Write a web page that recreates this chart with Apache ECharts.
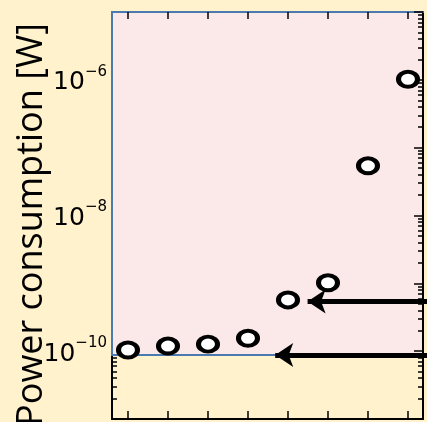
<!DOCTYPE html>
<html>
<head>
<meta charset="utf-8">
<script src="https://cdn.jsdelivr.net/npm/echarts@6/dist/echarts.min.js"></script>
<style>
  html, body { margin: 0; padding: 0; background: #FFF2CC; }
  #chart { width: 427px; height: 422px; }
</style>
</head>
<body>
<div id="chart"></div>
<script>
// Stage index on the horizontal axis and the measured power at each stage
const stages = [1, 2, 3, 4, 5, 6, 7, 8];
const powerW = [1.04e-10, 1.19e-10, 1.27e-10, 1.55e-10, 5.7e-10, 1.02e-9, 5.4e-8, 1.02e-6];

// Shaded band: from its floor up to the top of the plot
const bandFloorW = 8.8e-11;
const bandTopW = 1e-5;

// Two leftward arrows: level, tip position and tail position
const arrowLevelsW = [5.4e-10, 8.8e-11];
const arrowTipStage = [5.49, 4.68];
const arrowTailStage = 8.6;

// Axis ranges and tick values
const xRange = [0.6, 8.375];
const yRange = [1e-11, 1e-5];
const decadeTicks = [1e-11, 1e-10, 1e-9, 1e-8, 1e-7, 1e-6, 1e-5];
const labelledDecades = [1e-10, 1e-8, 1e-6];
const minorTicks = [];
for (let k = -11; k <= -6; k++) {
  for (let m = 2; m <= 9; m++) minorTicks.push(m * Math.pow(10, k));
}

const INK = '#000000';
const BAND_FILL = '#FBE9E9';
const BAND_EDGE = '#4A7AAF';
const PAPER = '#FFF2CC';

const chart = echarts.init(document.getElementById('chart'), null, { renderer: 'canvas' });

function yAxisBase(position, ticks, len, showLine) {
  return {
    type: 'log',
    logBase: 10,
    position: position,
    min: yRange[0],
    max: yRange[1],
    axisLine: { show: showLine, lineStyle: { color: INK, width: 2 } },
    axisTick: { show: true, inside: true, length: len, customValues: ticks, lineStyle: { color: INK, width: 1.5 } },
    axisLabel: { show: false },
    splitLine: { show: false },
    minorTick: { show: false }
  };
}

function xAxisBase(position, len, lineColor) {
  return {
    type: 'value',
    position: position,
    min: xRange[0],
    max: xRange[1],
    z: 5,
    axisLine: { show: true, lineStyle: { color: lineColor, width: 2 } },
    axisTick: { show: true, inside: true, length: len, customValues: stages, lineStyle: { color: INK, width: 1.5 } },
    axisLabel: { show: false },
    splitLine: { show: false }
  };
}

const leftMajor = yAxisBase('left', decadeTicks, 9, true);
leftMajor.axisLabel = {
  show: true,
  margin: 5,
  customValues: labelledDecades,
  formatter: function (v) {
    const e = Math.round(Math.log10(v));
    return '{b|10}{s|\u2212' + Math.abs(e) + '}';
  },
  rich: {
    b: { fontFamily: 'DejaVu Sans', fontSize: 25, color: INK, lineHeight: 31, verticalAlign: 'bottom' },
    s: { fontFamily: 'DejaVu Sans', fontSize: 15, color: INK, lineHeight: 31, verticalAlign: 'top' }
  }
};
leftMajor.name = 'Power consumption [W]';
leftMajor.nameLocation = 'middle';
leftMajor.nameRotate = 90;
leftMajor.nameGap = 62;
leftMajor.nameMoveOverlap = false;
leftMajor.nameTextStyle = {
  fontFamily: 'Open Sans',
  fontSize: 36,
  color: INK,
  padding: [0, 18, 0, 0]
};

const rightMajor = yAxisBase('right', decadeTicks, 9, true);
rightMajor.z = 5;
const leftMinor = yAxisBase('left', minorTicks, 5, false);
const rightMinor = yAxisBase('right', minorTicks, 5, false);
rightMinor.z = 5;

const option = {
  backgroundColor: PAPER,
  animation: false,
  grid: { left: 112, right: 4, top: 12, bottom: 3, containLabel: false, outerBoundsMode: 'none' },
  xAxis: [xAxisBase('bottom', 8, INK), xAxisBase('top', 7, BAND_EDGE)],
  yAxis: [leftMajor, rightMajor, leftMinor, rightMinor],
  series: [
    {
      name: 'band',
      type: 'line',
      data: [],
      z: -1,
      silent: true,
      markArea: {
        silent: true,
        itemStyle: { color: BAND_FILL, borderWidth: 0 },
        data: [[{ yAxis: bandFloorW }, { yAxis: bandTopW }]]
      }
    },
    {
      name: 'band edge',
      type: 'line',
      data: [],
      z: 3,
      silent: true,
      markArea: {
        silent: true,
        itemStyle: { color: 'rgba(0,0,0,0)', borderColor: BAND_EDGE, borderWidth: 2 },
        data: [[{ yAxis: bandFloorW }, { yAxis: bandTopW }]]
      }
    },
    {
      name: 'arrows',
      type: 'lines',
      coordinateSystem: 'cartesian2d',
      clip: false,
      z: 4,
      silent: true,
      symbol: ['none', 'arrow'],
      symbolSize: [16, 18],
      lineStyle: { color: INK, width: 5, opacity: 1, curveness: 0 },
      data: arrowLevelsW.map(function (lvl, i) {
        return { coords: [[arrowTailStage, lvl], [arrowTipStage[i], lvl]] };
      })
    },
    {
      name: 'power',
      type: 'scatter',
      z: 6,
      symbol: 'circle',
      symbolSize: [19, 15],
      itemStyle: { color: '#FFFFFF', borderColor: INK, borderWidth: 4.5, opacity: 1 },
      data: stages.map(function (s, i) { return [s, powerW[i]]; })
    }
  ]
};

chart.setOption(option);
</script>
</body>
</html>
